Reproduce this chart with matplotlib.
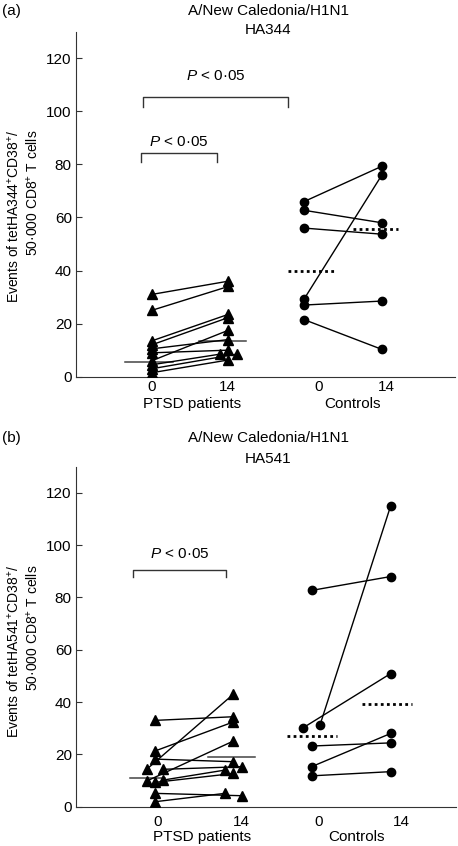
import matplotlib
matplotlib.use("Agg")
import matplotlib.pyplot as plt

plt.rcParams['font.family'] = ['Liberation Sans', 'DejaVu Sans']
plt.rcParams['mathtext.fontset'] = 'custom'
plt.rcParams['mathtext.rm'] = 'Liberation Sans'
plt.rcParams['mathtext.it'] = 'Liberation Sans:italic'
plt.rcParams['font.size'] = 10

# --- data panel (a) HA344 ---
a_pt_day0 = [31, 25, 13.5, 12, 10.5, 9, 6, 4.5, 3, 1.5]
a_pt_day14 = [36, 34, 23.5, 22.3, 14, 10, 17.5, 8.5, 8.5, 6.3]
a_pt_jit0 = [0, 0, 0, 0, 0, 0, 0, 0, 0, 0]
a_pt_jit14 = [0, 0, 0, 0, 0, 0, 0, -1, 1, 0]
a_ct_day0 = [66, 62.7, 56, 29.3, 27, 21.5]
a_ct_day14 = [79.3, 58, 53.7, 76, 28.5, 10.3]
a_ct_jit0 = [0, 0, 0, 0, 0, 0]
a_medians = [5.5, 13.4, 40, 55.6]   # pat d0, pat d14, ctrl d0, ctrl d14

# --- data panel (b) HA541 ---
b_pt_day0 = [33, 21.3, 14.3, 18.2, 9.8, 14.3, 10.2, 9.3, 5.1, 1.9]
b_pt_day14 = [34.4, 32.4, 43, 17.2, 25.1, 15.3, 14, 12.7, 4.2, 5.1]
b_pt_jit0 = [0, 0, -1, 0, -1, 1, 1, 0, 0, 0]
b_pt_jit14 = [0, 0, 0, 0, 0, 1, -1, 0, 1, -1]
b_ct_day0 = [82.7, 30.2, 31.2, 23.2, 15.3, 11.8]
b_ct_day14 = [88, 50.9, 115, 24.4, 28, 13.4]
b_ct_jit0 = [0, -1, 1, 0, 0, 0]
b_medians = [10.8, 18.9, 27, 39.2]

day_labels = ['0', '14', '0', '14']
group_labels = ['PTSD patients', 'Controls']
p_text = r'$P$ < 0·05'

W, H = 458, 846


def draw_panel(ax, pos, jstep, pt0, pt14, pj0, pj14, ct0, ct14, cj0, med, med_span):
    # patients: triangles joined
    for v0, v14, j0, j14 in zip(pt0, pt14, pj0, pj14):
        ax.plot([pos[0] + j0 * jstep, pos[1] + j14 * jstep], [v0, v14], color='black', lw=1,
                marker='^', ms=7, mec='black', mfc='black', zorder=3)
    # controls: circles joined
    for v0, v14, j0 in zip(ct0, ct14, cj0):
        ax.plot([pos[2] + j0 * jstep, pos[3]], [v0, v14], color='black', lw=1,
                marker='o', ms=6, mec='black', mfc='black', zorder=3)
    # medians
    for k, (m, span) in enumerate(zip(med, med_span)):
        if k < 2:
            ax.plot(span, [m, m], color='#444444', lw=1.1, zorder=2)
        else:
            ax.plot(span, [m, m], color='black', lw=2, ls=(0, (1, 1.2)), zorder=2)


def bracket(ax, x0, x1, top, drop, txt_y):
    ax.plot([x0, x0, x1, x1], [top - drop, top, top, top - drop], color='#333333', lw=1)
    ax.text((x0 + x1) / 2, txt_y, p_text, ha='center', va='center', fontsize=11)


def style_axes(ax, tick_pos, group_pos, tick_pad, group_off):
    ax.set_xlim(0, 10)
    ax.set_ylim(0, 130)
    ax.set_yticks(range(0, 121, 20))
    ax.spines['top'].set_visible(False)
    ax.spines['right'].set_visible(False)
    ax.spines['left'].set_color('#333333')
    ax.spines['bottom'].set_color('#333333')
    ax.tick_params(axis='y', direction='in', length=4, labelsize=11, pad=3, color='#333333')
    ax.set_xticks(tick_pos)
    ax.set_xticklabels(day_labels, fontsize=11)
    ax.tick_params(axis='x', length=0, pad=tick_pad)
    for gp, gl in zip(group_pos, group_labels):
        ax.annotate(gl, xy=(gp, 0), xycoords=('data', 'axes fraction'),
                    xytext=(0, group_off), textcoords='offset points', ha='center', va='center', fontsize=11)


def ylabel(line1, line2, top_px):
    fig.text(14 / W, 1 - top_px / H, line1, rotation=90, ha='center', va='top', fontsize=10)
    fig.text(33 / W, 1 - top_px / H, line2, rotation=90, ha='center', va='top', fontsize=10)


fig = plt.figure(figsize=(W / 100, H / 100), dpi=100)
ax1 = fig.add_axes([76 / W, 1 - 376.7 / H, 379 / W, 345 / H])
ax2 = fig.add_axes([76 / W, 1 - 806.7 / H, 380 / W, 340 / H])

# panel a
draw_panel(ax1, [2.0, 4.02, 6.02, 8.07], 0.22,
           a_pt_day0, a_pt_day14, a_pt_jit0, a_pt_jit14,
           a_ct_day0, a_ct_day14, a_ct_jit0, a_medians,
           [(1.3, 2.57), (3.25, 4.48), (5.6, 6.8), (7.3, 8.5)])
bracket(ax1, 1.78, 5.6, 105.5, 3.7, 113.3)
bracket(ax1, 1.71, 3.71, 84.2, 3.4, 88.5)
style_axes(ax1, [2.0, 4.0, 6.41, 8.2], [3.06, 7.3], 2.5, -20)
ylabel('Events of tetHA344$^{+}$CD38$^{+}$/', '50·000 CD8$^{+}$ T cells', 130)

# panel b
draw_panel(ax2, [2.08, 4.14, 6.2, 8.28], 0.22,
           b_pt_day0, b_pt_day14, b_pt_jit0, b_pt_jit14,
           b_ct_day0, b_ct_day14, b_ct_jit0, b_medians,
           [(1.42, 2.34), (3.47, 4.71), (5.55, 6.87), (7.52, 8.85)])
bracket(ax2, 1.51, 3.94, 90.6, 2.8, 96.7)
style_axes(ax2, [2.16, 4.36, 6.39, 8.57], [3.32, 7.39], 6, -21.6)
ylabel('Events of tetHA541$^{+}$CD38$^{+}$/', '50·000 CD8$^{+}$ T cells', 565)

# titles and panel letters
fig.text(268 / W, 1 - 11 / H, 'A/New Caledonia/H1N1', ha='center', va='center', fontsize=11)
fig.text(268 / W, 1 - 30 / H, 'HA344', ha='center', va='center', fontsize=11)
fig.text(2 / W, 1 - 11 / H, '(a)', ha='left', va='center', fontsize=11)
fig.text(268 / W, 1 - 438 / H, 'A/New Caledonia/H1N1', ha='center', va='center', fontsize=11)
fig.text(268 / W, 1 - 459 / H, 'HA541', ha='center', va='center', fontsize=11)
fig.text(2 / W, 1 - 438 / H, '(b)', ha='left', va='center', fontsize=11)

fig.savefig('out.png', dpi=100)
